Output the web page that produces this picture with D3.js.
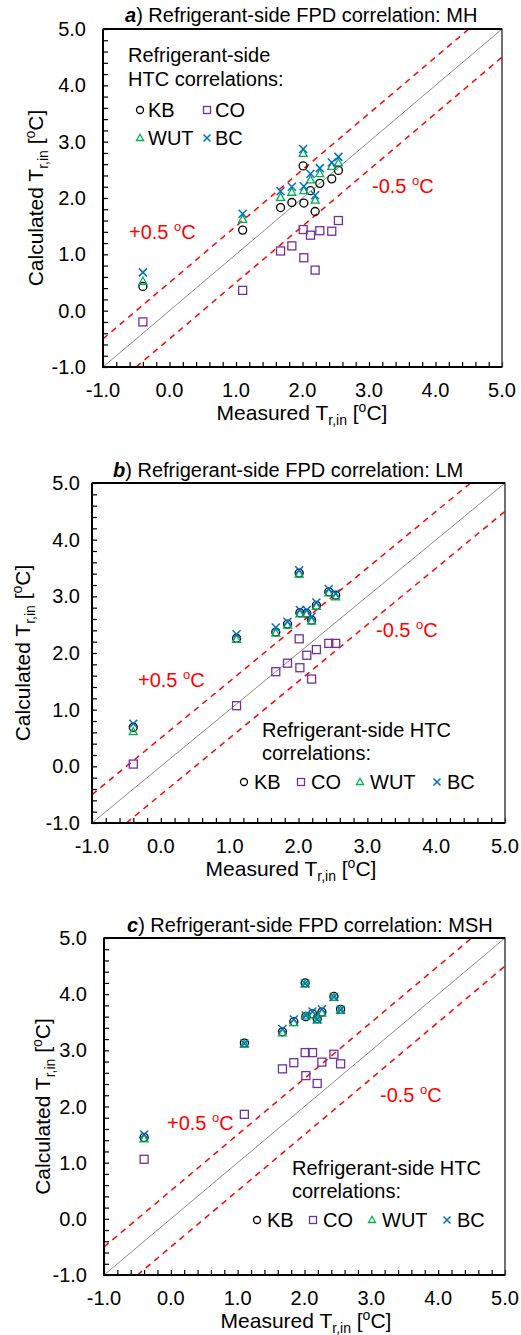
<!DOCTYPE html>
<html>
<head>
<meta charset="utf-8">
<script src="https://cdn.jsdelivr.net/npm/d3@7"></script>
<style>
  html, body { margin: 0; padding: 0; background: #fff; }
  svg { display: block; }
  text { font-family: "Liberation Sans", Arial, sans-serif; fill: #000; }
</style>
</head>
<body>
<svg id="chart" width="521" height="1335"></svg>
<script>
// Measured refrigerant inlet temperature of each test point [°C]
const measured = [-0.40, 1.10, 1.67, 1.84, 2.01, 2.02, 2.12, 2.19, 2.26, 2.44, 2.54];

// Calculated inlet temperature, FPD correlation MH
const kbMH  = [0.43, 1.43, 1.83, 1.92, 2.57, 1.91, 2.13, 1.76, 2.26, 2.34, 2.49];
const coMH  = [-0.20, 0.36, 1.06, 1.15, 1.44, 0.94, 1.34, 0.72, 1.42, 1.41, 1.60];
const wutMH = [0.52, 1.62, 2.01, 2.10, 2.79, 2.13, 2.32, 1.96, 2.43, 2.56, 2.62];
const bcMH  = [0.68, 1.72, 2.12, 2.20, 2.87, 2.21, 2.43, 2.05, 2.53, 2.63, 2.73];

// Calculated inlet temperature, FPD correlation LM
const kbLM  = [0.69, 2.26, 2.37, 2.51, 3.41, 2.71, 2.70, 2.58, 2.84, 3.08, 3.02];
const coLM  = [0.04, 1.07, 1.67, 1.82, 2.25, 1.74, 1.96, 1.54, 2.06, 2.17, 2.17];
const wutLM = [0.61, 2.24, 2.35, 2.49, 3.39, 2.69, 2.69, 2.56, 2.82, 3.06, 2.99];
const bcLM  = [0.75, 2.33, 2.45, 2.55, 3.46, 2.76, 2.76, 2.64, 2.89, 3.13, 3.05];

// Calculated inlet temperature, FPD correlation MSH
const kbMSH  = [1.45, 3.13, 3.33, 3.51, 4.20, 3.60, 3.65, 3.56, 3.68, 3.96, 3.73];
const coMSH  = [1.06, 1.86, 2.67, 2.78, 2.96, 2.55, 2.96, 2.41, 2.79, 2.93, 2.76];
const wutMSH = [1.42, 3.11, 3.31, 3.49, 4.18, 3.61, 3.63, 3.54, 3.66, 3.94, 3.71];
const bcMSH  = [1.50, 3.12, 3.38, 3.55, 4.19, 3.62, 3.69, 3.55, 3.73, 3.95, 3.72];

const seriesNames = ["KB", "CO", "WUT", "BC"];
const seriesColors = ["#000000", "#7030A0", "#00B050", "#0070C0"];
const panelLetters = ["a", "b", "c"];
const fpdNames = ["MH", "LM", "MSH"];
const axisDomain = [-1, 5];
const majorTicks = [-1, 0, 1, 2, 3, 4, 5];
const bandOffsets = [0.5, -0.5];
const bandLabels = ["+0.5 ", "-0.5 "];

const panelData = [
  [kbMH, coMH, wutMH, bcMH],
  [kbLM, coLM, wutLM, bcLM],
  [kbMSH, coMSH, wutMSH, bcMSH]
];

// Layout of each panel (plot box, label anchors, legend placement)
const layouts = [
  { left: 103, right: 502, top: 29, bottom: 367, titleX: 125, titleY: 22,
    yTitleX: 43, xTitleX: 302, yTickGap: 17,
    plusLab: [129, 239], minusLab: [372, 193],
    legend: { x: 128, y: 62, lineGap: 24, wrap: true } },
  { left: 92, right: 505, top: 483, bottom: 823, titleX: 113, titleY: 477,
    yTitleX: 30, xTitleX: 291, yTickGap: 12,
    plusLab: [138, 687], minusLab: [376, 637],
    legend: { x: 262, y: 737, lineGap: 23, wrap: false, rowX: [244, 301, 360, 437] } },
  { left: 104, right: 505, top: 938, bottom: 1275, titleX: 127, titleY: 932,
    yTitleX: 50, xTitleX: 306, yTickGap: 17,
    plusLab: [167, 1130], minusLab: [380, 1102],
    legend: { x: 292, y: 1175, lineGap: 23, wrap: false, rowX: [257, 313, 372, 447] } }
];

const svg = d3.select("#chart");

function marker(g, type, color, size) {
  const s = size;
  if (type === "KB") {
    g.append("circle").attr("r", s * 0.5).attr("fill", "none")
      .attr("stroke", color).attr("stroke-width", 1.3);
  } else if (type === "CO") {
    g.append("rect").attr("x", -s / 2).attr("y", -s / 2).attr("width", s).attr("height", s)
      .attr("fill", "none").attr("stroke", color).attr("stroke-width", 1.3);
  } else if (type === "WUT") {
    const h = s * 0.9;
    g.append("path")
      .attr("d", `M0,${-h * 0.6}L${s / 2},${h * 0.4}L${-s / 2},${h * 0.4}Z`)
      .attr("fill", "none").attr("stroke", color).attr("stroke-width", 1.3);
  } else {
    const r = s / 2;
    g.append("path").attr("d", `M${-r},${-r}L${r},${r}M${-r},${r}L${r},${-r}`)
      .attr("fill", "none").attr("stroke", color).attr("stroke-width", 1.5);
  }
}

function tempLabel(sel, prefix, subSize) {
  // writes "<prefix>T_r,in [°C]" with sub- and superscripts
  sel.append("tspan").text(prefix + "T");
  sel.append("tspan").attr("font-size", subSize).attr("dy", 5).text("r,in");
  sel.append("tspan").attr("dy", -5).text(" [");
  sel.append("tspan").attr("font-size", subSize).attr("dy", -8).text("o");
  sel.append("tspan").attr("dy", 8).text("C]");
}

layouts.forEach((L, p) => {
  const x = d3.scaleLinear().domain(axisDomain).range([L.left, L.right]);
  const y = d3.scaleLinear().domain(axisDomain).range([L.bottom, L.top]);
  const g = svg.append("g");

  const clipId = "clip" + p;
  svg.append("clipPath").attr("id", clipId).append("rect")
    .attr("x", L.left).attr("y", L.top)
    .attr("width", L.right - L.left).attr("height", L.bottom - L.top);

  // minor + major ticks pointing inward
  const minor = d3.range(-1, 5.0001, 0.2);
  const xAxis = d3.axisBottom(x).tickValues(minor).tickSize(-5).tickFormat("");
  const yAxis = d3.axisLeft(y).tickValues(minor).tickSize(-5).tickFormat("");
  g.append("g").attr("transform", `translate(0,${L.bottom})`).call(xAxis)
    .call(a => a.select(".domain").remove())
    .selectAll("line").attr("stroke", "#000").attr("stroke-width", 1.2);
  g.append("g").attr("transform", `translate(${L.left},0)`).call(yAxis)
    .call(a => a.select(".domain").remove())
    .selectAll("line").attr("stroke", "#000").attr("stroke-width", 1.2);

  // tick labels
  g.selectAll(".xl").data(majorTicks).join("text")
    .attr("x", d => x(d)).attr("y", L.bottom + 30)
    .attr("text-anchor", "middle").attr("font-size", 20)
    .text(d => d3.format(".1f")(d).replace("−", "-"));
  g.selectAll(".yl").data(majorTicks).join("text")
    .attr("x", L.left - L.yTickGap).attr("y", d => y(d) + 7)
    .attr("text-anchor", "end").attr("font-size", 20)
    .text(d => d3.format(".1f")(d).replace("−", "-"));

  // 1:1 reference line
  g.append("line")
    .attr("x1", x(axisDomain[0])).attr("y1", y(axisDomain[0]))
    .attr("x2", x(axisDomain[1])).attr("y2", y(axisDomain[1]))
    .attr("stroke", "#8c8c8c").attr("stroke-width", 1);

  // ±0.5 °C bands
  bandOffsets.forEach(d => {
    const x0 = Math.max(axisDomain[0], axisDomain[0] - d);
    const x1 = Math.min(axisDomain[1], axisDomain[1] - d);
    g.append("line")
      .attr("x1", x(x0)).attr("y1", y(x0 + d))
      .attr("x2", x(x1)).attr("y2", y(x1 + d))
      .attr("stroke", "#ff0000").attr("stroke-width", 1.5)
      .attr("stroke-dasharray", "6,5")
      .attr("clip-path", `url(#${clipId})`);
  });

  // band labels
  [[L.plusLab, bandLabels[0]], [L.minusLab, bandLabels[1]]].forEach(([pos, txt]) => {
    const t = g.append("text").attr("x", pos[0]).attr("y", pos[1])
      .attr("font-size", 20).style("fill", "#ff0000");
    t.append("tspan").text(txt);
    t.append("tspan").attr("font-size", 13).attr("dy", -8).text("o");
    t.append("tspan").attr("dy", 8).text("C");
  });

  // plot frame
  g.append("rect").attr("x", L.left).attr("y", L.top)
    .attr("width", L.right - L.left).attr("height", L.bottom - L.top)
    .attr("fill", "none").attr("stroke", "#404040").attr("stroke-width", 1.5);
  g.append("path")
    .attr("d", `M${L.left},${L.top}V${L.bottom}H${L.right}`)
    .attr("fill", "none").attr("stroke", "#000").attr("stroke-width", 2);
  g.append("line").attr("x1", L.left).attr("x2", L.right)
    .attr("y1", L.top).attr("y2", L.top).attr("stroke", "#000").attr("stroke-width", 2);

  // data markers
  const order = [0, 1, 2, 3];
  order.forEach(si => {
    const vals = panelData[p][si];
    g.append("g").selectAll("g").data(vals).join("g")
      .attr("transform", (v, i) => `translate(${x(measured[i])},${y(v)})`)
      .each(function () { marker(d3.select(this), seriesNames[si], seriesColors[si], 8); });
  });

  // panel title
  const title = g.append("text").attr("x", L.titleX).attr("y", L.titleY).attr("font-size", 20);
  title.append("tspan").attr("font-weight", "bold").attr("font-style", "italic").text(panelLetters[p]);
  title.append("tspan").text(") Refrigerant-side FPD correlation: " + fpdNames[p]);

  // axis titles
  const xt = g.append("text").attr("x", L.xTitleX).attr("y", L.bottom + 53)
    .attr("text-anchor", "middle").attr("font-size", 21);
  tempLabel(xt, "Measured ", 14);
  const yt = g.append("text")
    .attr("transform", `translate(${L.yTitleX},${(L.top + L.bottom) / 2}) rotate(-90)`)
    .attr("text-anchor", "middle").attr("font-size", 21);
  tempLabel(yt, "Calculated ", 14);

  // legend
  const lg = L.legend;
  const lt = g.append("g");
  if (lg.wrap) {
    lt.append("text").attr("x", lg.x).attr("y", lg.y).attr("font-size", 20).text("Refrigerant-side");
    lt.append("text").attr("x", lg.x).attr("y", lg.y + 24).attr("font-size", 20).text("HTC correlations:");
    const cols = [140, 207];
    seriesNames.forEach((name, i) => {
      const cx = cols[i % 2];
      const cy = lg.y + 48 + Math.floor(i / 2) * 28;
      const m = lt.append("g").attr("transform", `translate(${cx},${cy})`);
      marker(m, name, seriesColors[i], 7);
      lt.append("text").attr("x", cx + 8).attr("y", cy + 7).attr("font-size", 20).text(name);
    });
  } else {
    lt.append("text").attr("x", lg.x).attr("y", lg.y).attr("font-size", 20).text("Refrigerant-side HTC");
    lt.append("text").attr("x", lg.x).attr("y", lg.y + lg.lineGap).attr("font-size", 20).text("correlations:");
    seriesNames.forEach((name, i) => {
      const cx = lg.rowX[i];
      const cy = lg.y + 45;
      const m = lt.append("g").attr("transform", `translate(${cx},${cy})`);
      marker(m, name, seriesColors[i], 7);
      lt.append("text").attr("x", cx + 10).attr("y", cy + 7).attr("font-size", 20).text(name);
    });
  }
});
</script>
</body>
</html>
